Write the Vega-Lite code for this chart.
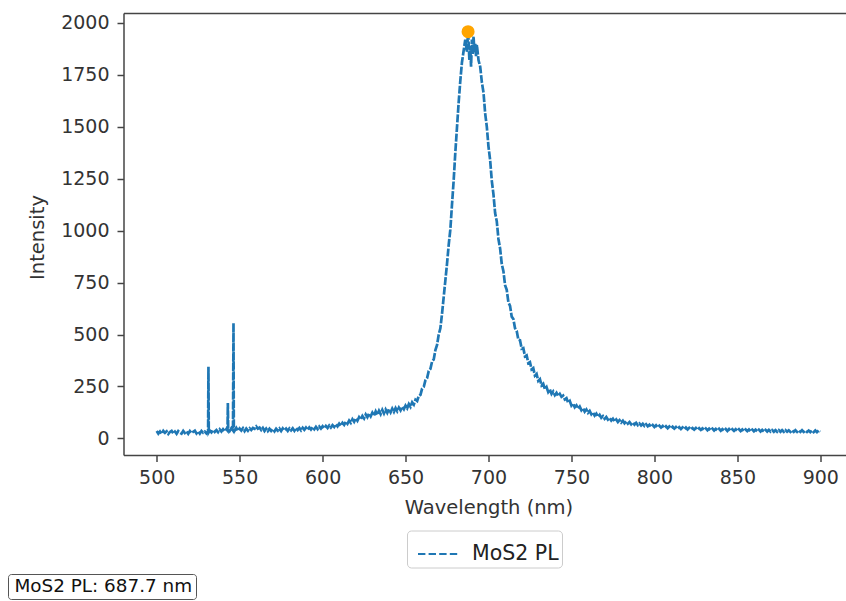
{
"$schema": "https://vega.github.io/schema/vega-lite/v6.json",
"autosize": {"type": "none"},
"padding": {"left": 123.5, "top": 13, "right": 0, "bottom": 146},
"width": 722.5,
"height": 442,
"background": "white",
"config": {
  "view": {"stroke": null},
  "font": "DejaVu Sans",
  "axis": {"grid": false, "domainColor": "#444", "domainWidth": 1.5, "tickColor": "#444", "tickWidth": 1.5, "tickSize": 6.5, "labelFont": "DejaVu Sans", "labelFontSize": 19, "labelColor": "#333", "titleFont": "DejaVu Sans", "titleFontSize": 19.5, "titleFontWeight": "normal", "titleColor": "#333"}
},
"datasets": {
  "spec": [
{"w":500,"i":35},{"w":501,"i":23},{"w":502,"i":33},{"w":503,"i":22},{"w":504,"i":36},{"w":505,"i":27},{"w":506,"i":34},{"w":507,"i":21},{"w":508,"i":31},{"w":509,"i":36},
{"w":510,"i":24},{"w":511,"i":33},{"w":512,"i":22},{"w":513,"i":35},{"w":514,"i":28},{"w":515,"i":23},{"w":516,"i":36},{"w":517,"i":26},{"w":518,"i":33},{"w":519,"i":22},
{"w":520,"i":35},{"w":521,"i":25},{"w":522,"i":32},{"w":523,"i":37},{"w":524,"i":24},{"w":525,"i":34},{"w":526,"i":23},{"w":527,"i":36},{"w":528,"i":27},{"w":529,"i":33},
{"w":530,"i":24},{"w":531,"i":34},{"w":531.2,"i":345},{"w":531.4,"i":30},{"w":532,"i":38},{"w":533,"i":29},{"w":534,"i":41},{"w":535,"i":31},{"w":536,"i":40},{"w":537,"i":30},
{"w":538,"i":43},{"w":539,"i":33},{"w":540,"i":44},{"w":541,"i":34},{"w":542,"i":45},{"w":542.7,"i":38},{"w":542.9,"i":170},{"w":543.1,"i":47},{"w":544,"i":36},{"w":545,"i":49},
{"w":546,"i":38},{"w":546.3,"i":555},{"w":546.5,"i":49},{"w":547,"i":37},{"w":548,"i":50},{"w":549,"i":36},{"w":550,"i":48},{"w":551,"i":38},{"w":552,"i":49},{"w":553,"i":35},
{"w":554,"i":47},{"w":555,"i":37},{"w":556,"i":48},{"w":557,"i":40},{"w":558,"i":50},{"w":559,"i":46},{"w":560,"i":57},{"w":561,"i":47},{"w":562,"i":52},{"w":563,"i":40},
{"w":564,"i":50},{"w":565,"i":36},{"w":566,"i":47},{"w":567,"i":35},{"w":568,"i":46},{"w":569,"i":36},{"w":570,"i":45},{"w":571,"i":34},{"w":572,"i":46},{"w":573,"i":37},
{"w":574,"i":47},{"w":575,"i":35},{"w":576,"i":48},{"w":577,"i":38},{"w":578,"i":47},{"w":579,"i":36},{"w":580,"i":48},{"w":581,"i":39},{"w":582,"i":49},{"w":583,"i":37},
{"w":584,"i":50},{"w":585,"i":40},{"w":586,"i":50},{"w":587,"i":39},{"w":588,"i":51},{"w":589,"i":41},{"w":590,"i":52},{"w":591,"i":42},{"w":592,"i":53},{"w":593,"i":43},
{"w":594,"i":54},{"w":595,"i":44},{"w":596,"i":56},{"w":597,"i":45},{"w":598,"i":57},{"w":599,"i":47},{"w":600,"i":58},{"w":601,"i":48},{"w":602,"i":60},{"w":603,"i":50},
{"w":604,"i":62},{"w":605,"i":52},{"w":606,"i":64},{"w":607,"i":55},{"w":608,"i":68},{"w":609,"i":58},{"w":610,"i":71},{"w":611,"i":61},{"w":612,"i":75},{"w":613,"i":65},
{"w":614,"i":80},{"w":615,"i":70},{"w":616,"i":86},{"w":617,"i":75},{"w":618,"i":92},{"w":619,"i":80},{"w":620,"i":97},{"w":621,"i":85},{"w":622,"i":102},{"w":623,"i":91},
{"w":624,"i":108},{"w":625,"i":96},{"w":626,"i":115},{"w":627,"i":102},{"w":628,"i":120},{"w":629,"i":106},{"w":630,"i":124},{"w":631,"i":110},{"w":632,"i":130},{"w":633,"i":113},
{"w":634,"i":133},{"w":635,"i":117},{"w":636,"i":137},{"w":637,"i":120},{"w":638,"i":139},{"w":639,"i":123},{"w":640,"i":141},{"w":641,"i":125},{"w":642,"i":143},{"w":643,"i":128},
{"w":644,"i":146},{"w":645,"i":131},{"w":646,"i":148},{"w":647,"i":135},{"w":648,"i":152},{"w":649,"i":140},{"w":650,"i":158},{"w":651,"i":145},{"w":652,"i":165},{"w":653,"i":152},
{"w":654,"i":174},{"w":655,"i":163},{"w":656,"i":186},{"w":657,"i":180},{"w":658,"i":205},{"w":659,"i":210},{"w":660,"i":240},{"w":661,"i":248},{"w":662,"i":280},{"w":663,"i":290},
{"w":664,"i":325},{"w":665,"i":335},{"w":666,"i":370},{"w":667,"i":380},{"w":668,"i":425},{"w":669,"i":450},{"w":670,"i":500},{"w":671,"i":530},{"w":672,"i":600},{"w":673,"i":680},
{"w":674,"i":760},{"w":675,"i":840},{"w":676,"i":930},{"w":677,"i":1005},{"w":678,"i":1125},{"w":679,"i":1240},{"w":680,"i":1375},{"w":681,"i":1495},{"w":682,"i":1615},{"w":683,"i":1720},
{"w":684,"i":1810},{"w":685,"i":1865},{"w":686,"i":1920},{"w":687,"i":1860},{"w":687.7,"i":1955},{"w":688,"i":1910},{"w":688.5,"i":1820},{"w":689,"i":1890},{"w":689.5,"i":1790},{"w":690,"i":1920},
{"w":690.5,"i":1850},{"w":691,"i":1935},{"w":691.5,"i":1860},{"w":692,"i":1900},{"w":692.5,"i":1840},{"w":693,"i":1895},{"w":694,"i":1820},{"w":695,"i":1790},{"w":696,"i":1715},{"w":697,"i":1665},
{"w":698,"i":1565},{"w":699,"i":1500},{"w":700,"i":1405},{"w":701,"i":1340},{"w":702,"i":1240},{"w":703,"i":1175},{"w":704,"i":1085},{"w":705,"i":1045},{"w":706,"i":960},{"w":707,"i":915},
{"w":708,"i":840},{"w":709,"i":805},{"w":710,"i":738},{"w":711,"i":715},{"w":712,"i":655},{"w":713,"i":638},{"w":714,"i":586},{"w":715,"i":575},{"w":716,"i":530},{"w":717,"i":518},
{"w":718,"i":475},{"w":719,"i":472},{"w":720,"i":432},{"w":721,"i":435},{"w":722,"i":395},{"w":723,"i":400},{"w":724,"i":362},{"w":725,"i":367},{"w":726,"i":332},{"w":727,"i":338},
{"w":728,"i":302},{"w":729,"i":310},{"w":730,"i":277},{"w":731,"i":285},{"w":732,"i":255},{"w":733,"i":263},{"w":734,"i":237},{"w":735,"i":247},{"w":736,"i":223},{"w":737,"i":235},
{"w":738,"i":214},{"w":739,"i":226},{"w":740,"i":208},{"w":741,"i":219},{"w":742,"i":204},{"w":743,"i":214},{"w":744,"i":200},{"w":745,"i":206},{"w":746,"i":188},{"w":747,"i":194},
{"w":748,"i":172},{"w":749,"i":180},{"w":750,"i":158},{"w":751,"i":168},{"w":752,"i":150},{"w":753,"i":159},{"w":754,"i":143},{"w":755,"i":153},{"w":756,"i":136},{"w":757,"i":146},
{"w":758,"i":129},{"w":759,"i":139},{"w":760,"i":123},{"w":761,"i":132},{"w":762,"i":116},{"w":763,"i":126},{"w":764,"i":110},{"w":765,"i":119},{"w":766,"i":104},{"w":767,"i":113},
{"w":768,"i":99},{"w":769,"i":107},{"w":770,"i":94},{"w":771,"i":103},{"w":772,"i":90},{"w":773,"i":98},{"w":774,"i":86},{"w":775,"i":95},{"w":776,"i":82},{"w":777,"i":91},
{"w":778,"i":79},{"w":779,"i":88},{"w":780,"i":76},{"w":781,"i":85},{"w":782,"i":73},{"w":783,"i":82},{"w":784,"i":71},{"w":785,"i":79},{"w":786,"i":68},{"w":787,"i":77},
{"w":788,"i":66},{"w":789,"i":75},{"w":790,"i":64},{"w":791,"i":72},{"w":792,"i":62},{"w":793,"i":70},{"w":794,"i":60},{"w":795,"i":68},{"w":796,"i":58},{"w":797,"i":66},
{"w":798,"i":56},{"w":799,"i":64},{"w":800,"i":55},{"w":801,"i":63},{"w":802,"i":53},{"w":803,"i":61},{"w":804,"i":52},{"w":805,"i":60},{"w":806,"i":50},{"w":807,"i":58},
{"w":808,"i":49},{"w":809,"i":57},{"w":810,"i":48},{"w":811,"i":56},{"w":812,"i":47},{"w":813,"i":55},{"w":814,"i":46},{"w":815,"i":54},{"w":816,"i":45},{"w":817,"i":53},
{"w":818,"i":44},{"w":819,"i":52},{"w":820,"i":43},{"w":821,"i":51},{"w":822,"i":43},{"w":823,"i":50},{"w":824,"i":42},{"w":825,"i":50},{"w":826,"i":41},{"w":827,"i":49},
{"w":828,"i":41},{"w":829,"i":48},{"w":830,"i":40},{"w":831,"i":48},{"w":832,"i":39},{"w":833,"i":47},{"w":834,"i":39},{"w":835,"i":47},{"w":836,"i":38},{"w":837,"i":46},
{"w":838,"i":38},{"w":839,"i":46},{"w":840,"i":37},{"w":841,"i":45},{"w":842,"i":37},{"w":843,"i":45},{"w":844,"i":36},{"w":845,"i":45},{"w":846,"i":36},{"w":847,"i":44},
{"w":848,"i":36},{"w":849,"i":44},{"w":850,"i":36},{"w":851,"i":44},{"w":852,"i":35},{"w":853,"i":43},{"w":854,"i":35},{"w":855,"i":43},{"w":856,"i":35},{"w":857,"i":43},
{"w":858,"i":34},{"w":859,"i":42},{"w":860,"i":34},{"w":861,"i":42},{"w":862,"i":34},{"w":863,"i":42},{"w":864,"i":33},{"w":865,"i":41},{"w":866,"i":33},{"w":867,"i":41},
{"w":868,"i":33},{"w":869,"i":41},{"w":870,"i":33},{"w":871,"i":40},{"w":872,"i":32},{"w":873,"i":40},{"w":874,"i":32},{"w":875,"i":40},{"w":876,"i":32},{"w":877,"i":40},
{"w":878,"i":32},{"w":879,"i":40},{"w":880,"i":32},{"w":881,"i":39},{"w":882,"i":31},{"w":883,"i":39},{"w":884,"i":31},{"w":885,"i":39},{"w":886,"i":31},{"w":887,"i":39},
{"w":888,"i":31},{"w":889,"i":39},{"w":890,"i":31},{"w":891,"i":38},{"w":892,"i":31},{"w":893,"i":38},{"w":894,"i":30},{"w":895,"i":38},{"w":896,"i":30},{"w":897,"i":38},
{"w":898,"i":30},{"w":899,"i":38},{"w":900,"i":33}
  ],
  "peak": [{"w": 687.7, "i": 1958, "ann": "MoS2 PL: 687.7 nm"}]
},
"layer": [
  {
    "data": {"name": "spec"},
    "transform": [{"calculate": "'MoS2 PL'", "as": "series"}],
    "mark": {"type": "line", "strokeWidth": 2.7, "strokeDash": [8, 1.6], "clip": true},
    "encoding": {
      "x": {"field": "w", "type": "quantitative", "scale": {"domain": [480, 915.5], "nice": false, "zero": false},
            "axis": {"title": "Wavelength (nm)", "values": [500, 550, 600, 650, 700, 750, 800, 850, 900], "labelPadding": 7, "titleX": 365, "titleY": 52, "titleBaseline": "middle", "titleAnchor": "middle"}},
      "y": {"field": "i", "type": "quantitative", "scale": {"domain": [-80, 2048], "nice": false, "zero": false},
            "axis": {"title": "Intensity", "format": "d", "values": [0, 250, 500, 750, 1000, 1250, 1500, 1750, 2000], "labelPadding": 8, "titleX": -86.5, "titleY": 224, "titleBaseline": "middle", "titleAnchor": "middle"}},
      "color": {"field": "series", "type": "nominal", "scale": {"domain": ["MoS2 PL"], "range": ["#1f77b4"]},
                "legend": {"title": null, "orient": "none", "legendX": 283.5, "legendY": 517.5, "symbolType": "stroke", "symbolSize": 1600, "symbolStrokeWidth": 2, "symbolDash": [7.4, 3.2], "symbolStrokeColor": "#1f77b4", "symbolOffset": 7.5, "labelFontSize": 20.5, "labelFont": "DejaVu Sans", "labelColor": "#222", "labelOffset": 13, "labelExpr": "datum.label + '\u00a0'", "padding": 2.5, "strokeColor": "#cccccc", "fillColor": "white", "cornerRadius": 4}}
    }
  },
  {
    "data": {"name": "peak"},
    "mark": {"type": "point", "filled": true, "color": "#ffa500", "opacity": 1, "size": 170},
    "encoding": {
      "x": {"field": "w", "type": "quantitative", "axis": {"orient": "top", "labels": false, "ticks": false, "title": null, "domain": true}},
      "y": {"field": "i", "type": "quantitative"},
      "shape": {"field": "ann", "type": "nominal", "scale": {"range": ["circle"]},
                "legend": {"title": null, "orient": "none", "legendX": -115.5, "legendY": 561, "symbolSize": 0, "symbolOpacity": 0, "symbolStrokeWidth": 0, "labelOffset": -15, "labelLimit": 0, "labelFontSize": 18.4, "labelFont": "DejaVu Sans", "labelColor": "#111", "padding": 3, "strokeColor": "#555", "fillColor": "white", "cornerRadius": 3,
                           "encode": {"legend": {"update": {"strokeWidth": {"value": 1.5}}}}}}
    }
  }
],
"resolve": {"axis": {"x": "independent"}}
}
